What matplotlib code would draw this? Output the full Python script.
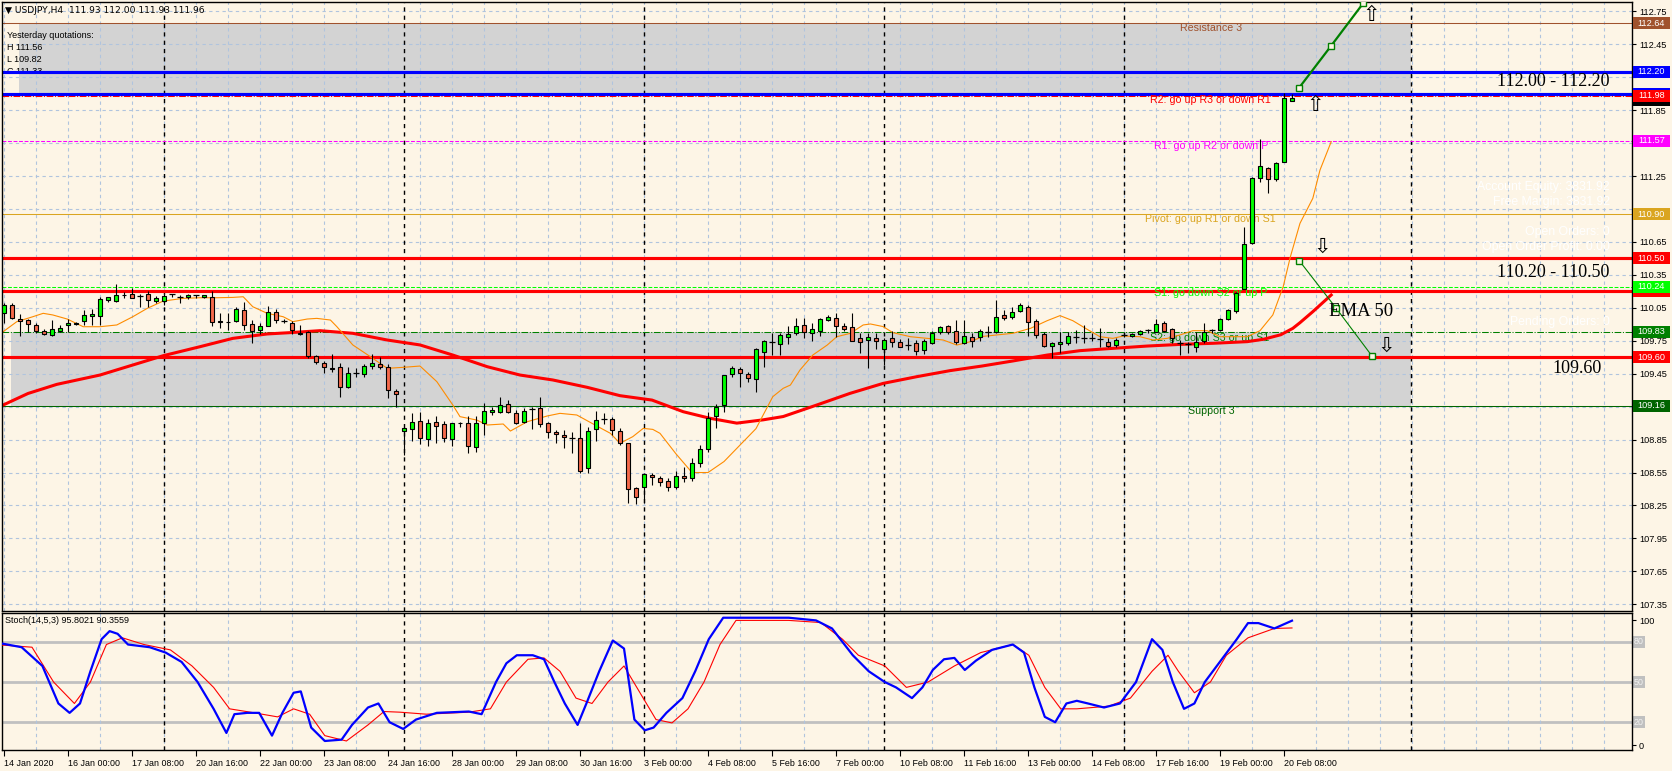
import matplotlib
matplotlib.use("Agg")
import matplotlib.pyplot as plt
from matplotlib.patches import Rectangle
from matplotlib.transforms import blended_transform_factory

# ---- data ----
opens = [110.00, 110.08, 109.945, 109.94, 109.89, 109.84, 109.80, 109.84, 109.89, 109.90,
         109.93, 109.975, 109.98, 110.12, 110.11, 110.165, 110.18, 110.16, 110.173, 110.11,
         110.11, 110.17, 110.147, 110.145, 110.167, 110.145, 110.15, 109.93, 109.925, 109.93,
         110.03, 109.90, 109.85, 109.88, 110.01, 109.93, 109.915, 109.82, 109.83, 109.61,
         109.545, 109.50, 109.508, 109.332, 109.455, 109.444, 109.52, 109.535, 109.508, 109.29,
         108.93, 108.943, 109.022, 108.852, 109.007, 108.99, 108.855, 109.004, 108.998, 108.786,
         109.004, 109.098, 109.101, 109.174, 109.089, 109.007, 109.13, 109.135, 108.998, 108.922,
         108.892, 108.868, 108.861, 108.588, 108.943, 109.04, 109.034, 108.925, 108.816, 108.406,
         108.421, 108.528, 108.497, 108.47, 108.42, 108.52, 108.50, 108.64, 108.76, 109.065,
         109.165, 109.444, 109.493, 109.444, 109.399, 109.651, 109.735, 109.72, 109.787, 109.818,
         109.894, 109.818, 109.842, 109.94, 109.954, 109.885, 109.872, 109.772, 109.757, 109.772,
         109.675, 109.772, 109.742, 109.712, 109.733, 109.666, 109.727, 109.827, 109.885, 109.842,
         109.733, 109.781, 109.787, 109.83, 109.833, 109.985, 109.97, 110.024, 110.06, 109.93,
         109.812, 109.702, 109.72, 109.727, 109.788, 109.778, 109.778, 109.767, 109.736, 109.711,
         109.803, 109.797, 109.812, 109.845, 109.833, 109.909, 109.854, 109.733, 109.718, 109.696,
         109.748, 109.845, 109.848, 109.948, 110.018, 110.222, 110.637, 111.236, 111.32, 111.223,
         111.381, 111.93]
highs = [110.09, 110.09, 109.99, 109.95, 109.91, 109.86, 109.94, 109.89, 109.95, 109.92,
         110.03, 110.04, 110.15, 110.15, 110.27, 110.19, 110.23, 110.18, 110.20, 110.16,
         110.18, 110.18, 110.17, 110.18, 110.17, 110.17, 110.20, 110.00, 110.00, 110.06,
         110.10, 109.94, 109.91, 110.07, 110.04, 109.95, 109.93, 109.89, 109.84, 109.62,
         109.565, 109.63, 109.55, 109.508, 109.50, 109.538, 109.63, 109.605, 109.538, 109.314,
         108.958, 109.095, 109.104, 109.035, 109.065, 109.022, 109.004, 109.013, 109.065, 109.065,
         109.18, 109.144, 109.235, 109.21, 109.12, 109.135, 109.144, 109.235, 109.013, 108.937,
         108.937, 108.922, 108.998, 108.968, 109.11, 109.095, 109.052, 108.952, 108.822, 108.421,
         108.543, 108.549, 108.52, 108.50, 108.56, 108.60, 108.68, 108.80, 109.10, 109.17,
         109.44, 109.52, 109.515, 109.47, 109.68, 109.757, 109.818, 109.824, 109.885, 109.954,
         109.954, 109.909, 109.954, 109.985, 110.006, 109.915, 110.006, 109.824, 109.824, 109.818,
         109.772, 109.842, 109.763, 109.772, 109.757, 109.763, 109.842, 109.885, 109.89, 109.94,
         109.94, 109.824, 109.854, 109.885, 110.121, 110.03, 110.06, 110.097, 110.076, 109.945,
         109.833, 109.742, 109.827, 109.833, 109.848, 109.894, 109.824, 109.864, 109.772, 109.772,
         109.818, 109.824, 109.848, 109.86, 109.945, 109.933, 109.864, 109.757, 109.742, 109.833,
         109.915, 109.86, 109.954, 110.036, 110.197, 110.79, 111.245, 111.585, 111.336, 111.381,
         112.004, 112.00]
lows = [109.91, 109.95, 109.79, 109.83, 109.82, 109.80, 109.79, 109.83, 109.83, 109.89,
        109.89, 109.89, 109.89, 110.10, 110.105, 110.14, 110.14, 110.06, 110.06, 110.09,
        110.08, 110.15, 110.09, 110.13, 110.14, 110.14, 109.88, 109.87, 109.85, 109.92,
        109.85, 109.73, 109.81, 109.88, 109.91, 109.91, 109.81, 109.80, 109.59, 109.535,
        109.453, 109.47, 109.235, 109.317, 109.417, 109.423, 109.49, 109.49, 109.226, 109.144,
        108.71, 108.84, 108.81, 108.795, 108.822, 108.831, 108.795, 108.968, 108.725, 108.74,
        108.892, 109.074, 109.095, 109.095, 108.99, 108.998, 108.943, 108.962, 108.867, 108.816,
        108.77, 108.725, 108.549, 108.549, 108.84, 108.992, 108.892, 108.80, 108.275, 108.263,
        108.27, 108.437, 108.43, 108.38, 108.40, 108.46, 108.47, 108.60, 108.74, 108.96,
        109.10, 109.42, 109.332, 109.378, 109.28, 109.514, 109.62, 109.62, 109.72, 109.803,
        109.772, 109.751, 109.797, 109.93, 109.787, 109.842, 109.751, 109.642, 109.505, 109.678,
        109.529, 109.696, 109.69, 109.666, 109.62, 109.63, 109.72, 109.808, 109.808, 109.72,
        109.72, 109.696, 109.751, 109.787, 109.824, 109.94, 109.945, 110.015, 109.793, 109.772,
        109.69, 109.59, 109.636, 109.712, 109.727, 109.727, 109.751, 109.696, 109.696, 109.696,
        109.788, 109.788, 109.803, 109.82, 109.827, 109.827, 109.727, 109.62, 109.636, 109.651,
        109.727, 109.82, 109.842, 109.94, 110.006, 110.22, 110.63, 111.2, 111.093, 111.208,
        111.375, 111.93]
closes = [110.075, 109.955, 109.93, 109.90, 109.84, 109.81, 109.86, 109.87, 109.91, 109.915,
          109.985, 109.99, 110.13, 110.145, 110.167, 110.17, 110.14, 110.16, 110.12, 110.136,
          110.16, 110.172, 110.145, 110.167, 110.165, 110.167, 109.924, 109.92, 109.92, 110.04,
          109.89, 109.84, 109.885, 110.01, 109.94, 109.93, 109.85, 109.815, 109.61, 109.553,
          109.508, 109.495, 109.326, 109.46, 109.453, 109.523, 109.545, 109.508, 109.30, 109.262,
          108.952, 109.013, 108.862, 108.998, 108.977, 108.862, 108.998, 109.0, 108.795, 108.998,
          109.11, 109.12, 109.165, 109.098, 108.998, 109.113, 109.128, 108.99, 108.916, 108.898,
          108.87, 108.867, 108.567, 108.931, 109.028, 109.037, 108.937, 108.816, 108.397, 108.324,
          108.537, 108.506, 108.467, 108.42, 108.52, 108.50, 108.64, 108.76, 109.05, 109.15,
          109.435, 109.50, 109.453, 109.408, 109.672, 109.748, 109.736, 109.80, 109.812, 109.885,
          109.827, 109.854, 109.945, 109.97, 109.888, 109.854, 109.751, 109.742, 109.781, 109.751,
          109.757, 109.742, 109.696, 109.711, 109.657, 109.748, 109.818, 109.872, 109.833, 109.742,
          109.793, 109.751, 109.842, 109.83, 109.97, 109.954, 110.01, 110.076, 109.918, 109.803,
          109.705, 109.727, 109.736, 109.797, 109.787, 109.778, 109.776, 109.765, 109.705, 109.757,
          109.80, 109.812, 109.842, 109.848, 109.90, 109.842, 109.772, 109.733, 109.717, 109.742,
          109.833, 109.848, 109.945, 110.03, 110.182, 110.628, 111.23, 111.345, 111.22, 111.372,
          111.958, 111.96]

# EMA 50 (red) and fast MA (orange), read as (bar, price)
ema50_bar = [-0.25, 3, 6.6, 12, 19.9, 24.5, 28.6, 32.9, 35.75, 39.5, 43.6, 47.9, 52, 56.1, 60.4,
             64.5, 68.6, 72.9, 77, 81, 84.9, 88.25, 91.6, 94.9, 97.4, 101.6, 105.75, 109.9,
             114.1, 118.25, 122.25, 126.1, 130.4, 134.5, 138.6, 142.9, 147, 151.1, 155.4,
             157.4, 159.6, 161.1, 162, 163.6, 165.9]
ema50_val = [109.16, 109.27, 109.353, 109.438, 109.614, 109.696, 109.772, 109.812, 109.824,
             109.842, 109.818, 109.757, 109.712, 109.62, 109.514, 109.438, 109.393, 109.326,
             109.25, 109.21, 109.104, 109.044, 109.0, 109.03, 109.06, 109.165, 109.271, 109.362,
             109.423, 109.478, 109.52, 109.566, 109.62, 109.66, 109.681, 109.702, 109.717,
             109.727, 109.742, 109.763, 109.805, 109.863, 109.915, 110.015, 110.167]
fast_bar = [-0.1, 1.6, 3.6, 4.9, 6.1, 7.9, 9.9, 12, 14.1, 16.1, 17.9, 19.9, 22.4, 24.5, 26.6,
            28.6, 29.9, 31.1, 32.9, 34.9, 36.1, 37.9, 39.1, 40.8, 41.6, 43.6, 45.8, 47.9, 49.9,
            52, 54.1, 56.1, 57, 59.1, 60.4, 62.4, 63.3, 65.4, 67.9, 69.5, 71.6, 74.1, 75.8, 77,
            78.6, 79.9, 81.1, 82, 84, 86, 88, 90, 92, 94, 96.1, 97.4, 98.3, 99.5, 101.1, 102.9,
            104.1, 105.8, 107.4, 108.3, 109.9, 111.1, 113.3, 115.4, 117.4, 119.1, 120.8, 122.4,
            124.1, 126.1, 128.3, 130.4, 132, 133.6, 135.4, 137, 138.6, 139.9, 142, 143.6, 145.4,
            147, 148.6, 150.4, 152, 153.6, 155.4, 157, 158.6, 159.9, 160.8, 162, 163.6, 164.5,
            165.9]
fast_val = [109.833, 109.924, 109.969, 110.0, 109.985, 109.948, 109.878, 109.878, 109.894,
            109.969, 110.045, 110.112, 110.136, 110.142, 110.142, 110.145, 110.151, 110.06,
            110.0, 109.969, 109.924, 109.948, 109.954, 109.939, 109.879, 109.712, 109.605,
            109.499, 109.508, 109.52, 109.378, 109.165, 109.059, 109.028, 108.983, 108.992,
            108.928, 109.013, 109.065, 109.089, 109.074, 108.974, 108.907, 108.816, 108.877,
            108.952, 108.943, 108.907, 108.72, 108.55, 108.55, 108.65, 108.8, 108.95, 109.241,
            109.317, 109.347, 109.484, 109.62, 109.711, 109.787, 109.818, 109.894, 109.903,
            109.879, 109.824, 109.787, 109.772, 109.757, 109.711, 109.742, 109.79, 109.803,
            109.818, 109.863, 109.933, 109.979, 109.933, 109.854, 109.787, 109.772, 109.793,
            109.787, 109.757, 109.772, 109.803, 109.842, 109.842, 109.787, 109.787, 109.787,
            109.842, 109.985, 110.243, 110.516, 110.82, 111.047, 111.305, 111.563]

# Stochastic(14,5,3): %K blue, %D red
stoch_k_bar = [-0.5, 2.2, 4.8, 6.8, 8.2, 9.5, 10.8, 12.2, 13.2, 14.2, 15.5, 18.2, 20.2, 22.2,
               24.2, 26.2, 27.8, 28.8, 30.4, 31.9, 33.5, 34.8, 36.2, 37.1, 38.4, 40.1, 42.2,
               43.5, 45.5, 46.8, 48.2, 49.9, 51.5, 54.1, 58.1, 59.7, 61.5, 62.8, 64.1, 66.1,
               67.5, 68.8, 70.1, 71.7, 72.8, 74.4, 76.1, 77.5, 78.8, 80.1, 81.2, 82.8, 84.8,
               86.4, 88.1, 89.9, 92.8, 98.1, 101.5, 103.5, 106.1, 108.1, 110.1, 111.5, 113.5,
               114.8, 116.1, 117.5, 118.8, 120.1, 121.5, 123.5, 126.1, 127.5, 128.8, 130.1,
               131.4, 132.8, 134.1, 135.5, 137.5, 139.5, 141.5, 143.5, 144.8, 146.1, 147.5,
               148.8, 150.1, 152.1, 154.1, 155.5, 156.8, 158.8, 161]
stoch_k = [79, 76, 62, 34, 27, 34, 58, 82, 88, 86, 78, 76, 72, 65, 50, 30, 12, 26, 27, 27, 10,
           27, 42, 43, 16, 6, 7, 18, 31, 34, 20, 15, 22, 27, 28, 26, 50, 64, 70, 70, 67, 50,
           34, 18, 34, 58, 81, 75, 22, 14, 16, 27, 38, 58, 82, 98, 98, 98, 96, 90, 70, 58, 50,
           46, 38, 46, 59, 67, 68, 59, 66, 74, 78, 72, 46, 24, 20, 34, 36, 34, 31, 34, 50, 82,
           74, 50, 30, 34, 50, 66, 82, 94, 94, 90, 95.8]
stoch_d_bar = [-0.5, 3.5, 6.2, 8.8, 10.8, 12.8, 14.8, 17.5, 20.8, 23.5, 26.2, 28.2, 30.8, 34.2,
               36.2, 38.2, 40.1, 42.8, 45.5, 47.5, 49.5, 52.8, 58.1, 60.8, 62.8, 65.5, 67.5,
               69.5, 71.5, 73.5, 75.5, 77.5, 79.5, 81.5, 83.5, 85.5, 87.5, 89.5, 91.5, 98.1,
               102.1, 104.8, 106.8, 110.1, 112.8, 115.5, 118.8, 122.1, 126.1, 128.1, 130.1,
               132.1, 134.1, 138.1, 140.8, 143.5, 145.5, 146.8, 148.8, 150.8, 152.8, 155.5,
               158.8, 161]
stoch_d = [77.7, 76, 50, 34, 50, 78, 83, 78, 74, 62, 46, 30, 27.5, 24, 30, 26, 10, 6, 18, 28,
           27.5, 26, 27.5, 30, 50, 67, 68, 58, 38, 34, 50, 62, 42, 22, 19.5, 30, 50, 78, 96, 96,
           94.4, 82, 70, 62, 46, 50, 62, 72, 78, 70, 46, 30, 30, 32, 38, 58, 70, 58, 42, 50, 70,
           83, 90, 90.36]
stoch_levels = [80, 50, 20]

# horizontal levels: price, colour, width, style
level_price = [112.64, 112.20, 112.00, 111.98, 111.57, 110.90, 110.50, 110.24, 110.20, 109.83, 109.60, 109.16]
level_color = ['#A0522D', '#0000FF', '#0000FF', '#FF0000', '#FF00FF', '#DAA520', '#FF0000',
               '#00FF00', '#FF0000', '#008000', '#FF0000', '#006400']
level_width = [1, 3, 3, 1, 1, 1, 3, 1, 3, 1, 3, 1]
level_style = ['-', '-', '-', '-.', '--', '-', '-', '--', '-', '-.', '-', '-']
level_text = ['Resistance 3', None, None, 'R2: go up R3 or down R1', 'R1: go up R2 or down P',
              'Pivot: go up R1 or down S1', None, 'S1: go down S2 or up P', None,
              'S2: go down S3 or up S1', None, 'Support 3']
level_text_bar = [147, 0, 0, 143.2, 143.7, 142.6, 0, 143.7, 0, 143.2, 0, 148]
level_text_y = [112.60, 0, 0, 111.94, 111.52, 110.86, 0, 110.185, 0, 109.775, 0, 109.11]
# which levels get a labelled box on the price axis (hidden ones get a bare box)
box_label = [True, True, False, True, True, True, True, True, False, True, True, True]
bid_price = 111.96

zones = [(1.9, 175.9, 111.98, 112.64), (0.9, 175.9, 109.16, 109.83)]

x_labels = ['14 Jan 2020', '16 Jan 00:00', '17 Jan 08:00', '20 Jan 16:00', '22 Jan 00:00',
            '23 Jan 08:00', '24 Jan 16:00', '28 Jan 00:00', '29 Jan 08:00', '30 Jan 16:00',
            '3 Feb 00:00', '4 Feb 08:00', '5 Feb 16:00', '7 Feb 00:00', '10 Feb 08:00',
            '11 Feb 16:00', '13 Feb 00:00', '14 Feb 08:00', '17 Feb 16:00', '19 Feb 00:00',
            '20 Feb 08:00']
week_breaks = [20, 50, 80, 110, 140, 175.9]

# projection lines drawn on the chart
up_path_bar = [161.9, 165.9, 169.9]
up_path_val = [112.055, 112.437, 112.824]
down_path_bar = [161.9, 166.5, 171.0]
down_path_val = [110.48, 110.049, 109.611]
up_arrows = [(170.9, 112.72), (163.9, 111.90)]
down_arrows = [(164.75, 110.61), (172.75, 109.70)]

BG = '#FDF5E6'
W, H = 1672, 771
fig = plt.figure(figsize=(W / 100, H / 100), dpi=100, facecolor=BG)
plt.rcParams['font.family'] = ['Liberation Sans', 'DejaVu Sans']

L, R = 2, 1632
TOP, BOT = 1.7, 611
ax = fig.add_axes([L / W, 1 - BOT / H, (R - L) / W, (BOT - TOP) / H], facecolor=BG)
axs = fig.add_axes([L / W, 1 - 749.7 / H, (R - L) / W, (749.7 - 612.5) / H], facecolor=BG)

xmin, xmax = -0.25, 203.5
ymin, ymax = 107.289, 112.838
px_per_price = (BOT - TOP) / (ymax - ymin)

def ax_px(x, y):
    return ((x - L) / (R - L), (BOT - y) / (BOT - TOP))

for a in (ax, axs):
    a.set_xlim(xmin, xmax)
    for s in a.spines.values():
        s.set_color('black')
        s.set_linewidth(1)
    a.set_axisbelow('line')
    a.set_xticks(range(0, 204, 4), minor=True)
    a.grid(True, which='minor', axis='x', color='#B0C4DE', linestyle=(0, (3, 3)), linewidth=0.8)
    for b in week_breaks:
        a.axvline(b, color='black', linestyle=(0, (3, 3)), linewidth=1, zorder=1.6)
    a.tick_params(which='minor', length=0)

ax.set_ylim(ymin, ymax)
price_ticks = [107.35 + 0.30 * k for k in range(19)]
covered = []
for k, p in enumerate(level_price):
    for t in price_ticks:
        if abs(t - p) < 0.07 and box_label[k]:
            covered.append(t)
ax.set_yticks(price_ticks)
ax.set_yticklabels(['' if t in covered else '%.2f' % t for t in price_ticks])
ax.yaxis.tick_right()
ax.tick_params(axis='y', length=3, pad=2, labelsize=6.6, colors='black')
ax.grid(True, which='major', axis='y', color='#B0C4DE', linestyle=(0, (3, 3)), linewidth=0.8)
ax.set_xticks([])

# zones
for x0, x1, y0, y1 in zones:
    ax.add_patch(Rectangle((x0, y0), x1 - x0, y1 - y0, facecolor='#D3D3D3', edgecolor='none', zorder=1))

# info text in upper left (under the lines)
for txt, yy in [('Yesterday quotations:', 35.7), ('H 111.56', 48), ('L 109.82', 60), ('C 111.33', 72)]:
    ax.text(*ax_px(7, yy), txt, transform=ax.transAxes, fontsize=6.5, va='center', zorder=1.7)

# account info (white)
for txt, yy in [('Account Equity: 3831.92', 187), ('Free Margin: 3831.92', 202),
                ('Open Orders: 0', 232), ('Open Order Profit: 0.00', 247), ('Pending Orders: 0', 322)]:
    ax.text(*ax_px(1610, yy), txt, transform=ax.transAxes, fontsize=8.8, color='white',
            ha='right', va='center', zorder=1.7)

# levels
for p, c, w, st in zip(level_price, level_color, level_width, level_style):
    ax.axhline(p, color=c, linewidth=w * 0.75, linestyle=st, zorder=2)
for t, c, xb, yv in zip(level_text, level_color, level_text_bar, level_text_y):
    if t:
        ax.text(xb, yv, t, color=c, fontsize=7.7, va='center', ha='left', zorder=2.2)

# moving averages
ax.plot(ema50_bar, ema50_val, color='#FF0000', linewidth=2.2, zorder=2.5)
ax.plot(fast_bar, fast_val, color='#FF8C00', linewidth=0.8, zorder=2.5)

# candles
for i, (o, h, l, c) in enumerate(zip(opens, highs, lows, closes)):
    ax.vlines(i, l, h, color='black', linewidth=0.8, zorder=3)
    if abs(c - o) < 0.004:
        ax.hlines(c, i - 0.32, i + 0.32, color='black', linewidth=0.9, zorder=3.1)
    else:
        fc = '#00FF00' if c > o else '#F5694B'
        ax.bar(i, abs(c - o), bottom=min(o, c), width=0.62, color=fc, edgecolor='black',
               linewidth=0.8, zorder=3.1)

# projections
ax.plot(up_path_bar, up_path_val, color='#008000', linewidth=1.6, marker='s', markersize=4,
        markerfacecolor=BG, markeredgecolor='#008000', zorder=3.5)
ax.plot(down_path_bar, down_path_val, color='#008000', linewidth=0.8, marker='s', markersize=4,
        markerfacecolor=BG, markeredgecolor='#008000', zorder=3.5)
for xb, yv in up_arrows:
    ax.text(xb, yv, '\u21e7', fontsize=15, ha='center', va='center', family='DejaVu Sans', zorder=4)
for xb, yv in down_arrows:
    ax.text(xb, yv, '\u21e9', fontsize=15, ha='center', va='center', family='DejaVu Sans', zorder=4)

ax.text(165.6, 110.02, 'EMA 50', family='Liberation Serif', fontsize=13.5, va='center', ha='left', zorder=4)
ax.text(186.6, 112.11, '112.00 - 112.20', family='Liberation Serif', fontsize=13, va='center', ha='left', zorder=4)
ax.text(186.6, 110.37, '110.20 - 110.50', family='Liberation Serif', fontsize=13, va='center', ha='left', zorder=4)
ax.text(193.6, 109.50, '109.60', family='Liberation Serif', fontsize=13, va='center', ha='left', zorder=4)

# price boxes on the right axis
tr = blended_transform_factory(ax.transAxes, ax.transData)
bx0 = (1633 - L) / (R - L)
bw = 37 / (R - L)
bh = 12 / px_per_price

def price_box(a, trans, y, h, color, text, tcolor='white'):
    a.add_patch(Rectangle((bx0, y - h / 2), bw, h, transform=trans, facecolor=color,
                          edgecolor='none', clip_on=False, zorder=5))
    if text:
        a.text(bx0 + bw / 2, y, text, transform=trans, fontsize=6.6, color=tcolor,
               va='center', ha='center', clip_on=False, zorder=6)

order = [2, 8, 0, 1, 4, 5, 6, 7, 9, 10, 11]
for k in order:
    p = level_price[k]
    price_box(ax, tr, p, bh, level_color[k], '%.2f' % p if box_label[k] else None)
price_box(ax, tr, bid_price - 0.015, bh, 'black', None)
price_box(ax, tr, 111.98, bh, '#FF0000', '111.98')

fig.text(5 / W, 1 - 10.5 / H, '\u25bc USDJPY,H4  111.93 112.00 111.93 111.96', fontsize=6.6,
         va='center', ha='left', family=['DejaVu Sans'])

# stochastic panel
axs.set_ylim(-0.5, 101.9)
trs = blended_transform_factory(axs.transAxes, axs.transData)
for lv in stoch_levels:
    axs.axhline(lv, color='#C0C0C0', linewidth=2, zorder=1.5)
    axs.add_patch(Rectangle((bx0, lv - 4.5), 12 / (R - L), 9, transform=trs, facecolor='#C0C0C0',
                            edgecolor='none', clip_on=False))
    axs.text(bx0 + 6 / (R - L), lv, str(lv), transform=trs, fontsize=6.4, color='#F2F2F2',
             va='center', ha='center', clip_on=False)
axs.plot(stoch_d_bar, stoch_d, color='#FF0000', linewidth=0.8, zorder=3)
axs.plot(stoch_k_bar, stoch_k, color='#0000FF', linewidth=1.6, zorder=3.2)
axs.yaxis.tick_right()
axs.set_yticks([3, 96])
axs.set_yticklabels(['0', '100'])
axs.tick_params(axis='y', length=3, pad=2, labelsize=6.6)
axs.set_xticks(range(0, 161, 8))
axs.set_xticklabels(x_labels, ha='left')
axs.tick_params(axis='x', length=4, pad=3, labelsize=6.4)
axs.text(3 / (R - L), 1 - 8 / 137, 'Stoch(14,5,3) 95.8021 90.3559', transform=axs.transAxes,
         fontsize=6.5, va='center', ha='left')

fig.savefig('out.png', dpi=100, facecolor=BG)
